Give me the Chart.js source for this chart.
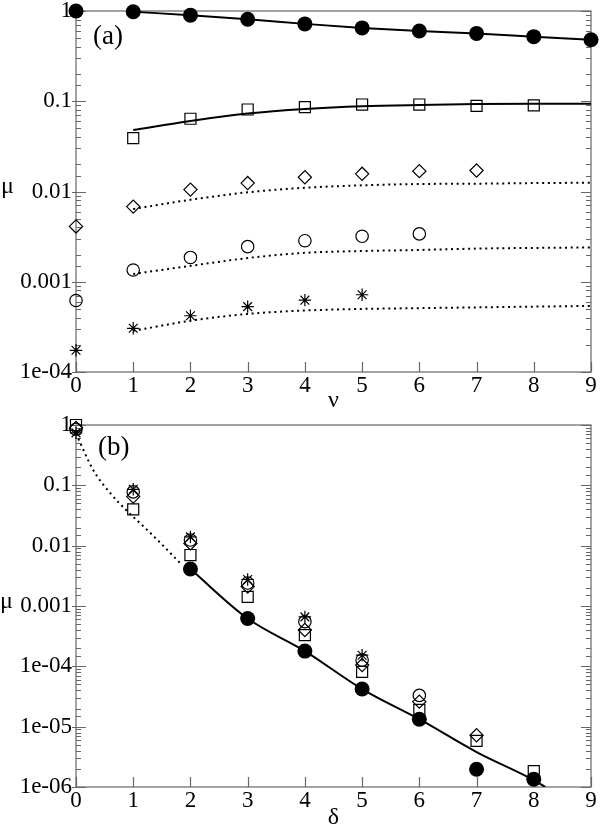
<!DOCTYPE html>
<html>
<head>
<meta charset="utf-8">
<script src="https://cdn.jsdelivr.net/npm/chart.js@4.4.1/dist/chart.umd.min.js"></script>
<style>
    body { margin: 0; background: #fff; }
    #wrap { position: relative; width: 600px; height: 833px; }
    canvas { position: absolute; left: 0; }
    #chartA { top: 0; }
    #chartB { top: 416px; }
</style>
</head>
<body>
<div id="wrap">
    <canvas id="chartA" width="600" height="416"></canvas>
    <canvas id="chartB" width="600" height="417"></canvas>
</div>
<script>
// ---- panel (a): mu against nu ----
let nuValues = [0, 1, 2, 3, 4, 5, 6, 7, 8, 9];
let aFilled = [1.0, 0.98, 0.90, 0.81, 0.72, 0.65, 0.60, 0.565, 0.52, 0.48];
let aSquares = [null, 0.039, 0.064, 0.081, 0.086, 0.092, 0.092, 0.089, 0.090];
let aDiamonds = [0.0041, 0.0068, 0.0105, 0.0124, 0.0144, 0.0157, 0.0168, 0.0171];
let aCircles = [0.00062, 0.00135, 0.00186, 0.00245, 0.00285, 0.00319, 0.00339];
let aStars = [0.000174, 0.000305, 0.00042, 0.00053, 0.000625, 0.000718];

// fitted curves, nu = 1..9
let fitNu = [1, 2, 3, 4, 5, 6, 7, 8, 9];
let aFitFilled = [0.98, 0.90, 0.81, 0.72, 0.65, 0.60, 0.565, 0.52, 0.48];
let aFitSquares = [0.048, 0.0605, 0.073, 0.082, 0.088, 0.091, 0.093, 0.094, 0.094];
let aFitDiamonds = [0.0064, 0.0081, 0.0098, 0.0110, 0.0117, 0.0121, 0.0122, 0.0124, 0.0125];
let aFitCircles = [0.00122, 0.0015, 0.00183, 0.00209, 0.00219, 0.00225, 0.00233, 0.00237, 0.0024];
let aFitStars = [0.000286, 0.00037, 0.00044, 0.00048, 0.0005, 0.00051, 0.00052, 0.00053, 0.00054];

let aTickLabels = ['1', '0.1', '0.01', '0.001', '1e-04'];

// ---- panel (b): mu against delta ----
let deltaValues = [0, 1, 2, 3, 4, 5, 6, 7, 8];
let bFilled = [null, null, 0.0041, 0.00062, 0.000179, 0.000042, 0.0000133, 0.00000197, 0.00000135];
let bSquares = [1.0, 0.040, 0.0070, 0.00142, 0.00033, 0.000081, 0.000019, 0.0000058, 0.00000183];
let bDiamonds = [0.89, 0.065, 0.0109, 0.0021, 0.0004, 0.000105, 0.000026, 0.0000072];
let bCircles = [0.85, 0.078, 0.0124, 0.0024, 0.00055, 0.000127, 0.000033];
let bStars = [0.74, 0.086, 0.014, 0.00275, 0.00066, 0.000153];

let bSolidX = [2, 3, 4, 5, 6, 7, 8, 8.2];
let bSolid = [0.0041, 0.00062, 0.000179, 0.000042, 0.0000133, 0.0000038, 0.0000013, 0.000001];
let bDotX = [0, 0.3, 0.6, 0.9, 1.2, 1.5, 1.85];
let bDot = [0.72, 0.18, 0.074, 0.037, 0.020, 0.0105, 0.0048];

let bTickLabels = ['1', '0.1', '0.01', '0.001', '1e-04', '1e-05', '1e-06'];

let serif = "'Liberation Serif', 'Times New Roman', serif";
let frameColor = '#666';

let isDecade = function (v) {
    let e = Math.log10(v);
    return Math.abs(e - Math.round(e)) < 1e-6;
};

let points = function (xs, ys) {
    let out = [];
    for (let i = 0; i < ys.length; i++) {
        if (ys[i] != null) out.push({ x: xs[i], y: ys[i] });
    }
    return out;
};

let markerSet = function (data, style, radius, filled) {
    return {
        data: data,
        showLine: false,
        pointStyle: style,
        pointRadius: radius,
        pointHoverRadius: radius,
        pointBorderWidth: filled ? 0 : 1.2,
        pointBorderColor: '#000',
        pointBackgroundColor: filled ? '#000' : 'rgba(0,0,0,0)',
        clip: false
    };
};

let fitSet = function (data, dotted) {
    return {
        data: data,
        showLine: true,
        pointRadius: 0,
        borderColor: '#000',
        borderWidth: 2,
        borderDash: dotted ? [2, 3.7] : [],
        cubicInterpolationMode: 'monotone',
        fill: false
    };
};

// frame, inward ticks, panel tag and the mu label
let decorPlugin = {
    id: 'decor',
    beforeDatasetsDraw: function (chart, args, opts) {
        let ctx = chart.ctx;
        let a = chart.chartArea;
        let xs = chart.scales.x;
        let ys = chart.scales.y;
        ctx.save();
        ctx.strokeStyle = frameColor;
        ctx.lineWidth = 1.2;
        ctx.strokeRect(a.left, a.top, a.right - a.left, a.bottom - a.top);
        ctx.beginPath();
        ys.ticks.forEach(function (t) {
            let y = Math.round(ys.getPixelForValue(t.value)) + 0.5;
            let major = isDecade(t.value);
            let len = major ? 10 : 5;
            ctx.moveTo(a.left - (major ? 4 : 0), y);
            ctx.lineTo(a.left + len, y);
            ctx.moveTo(a.right - len, y);
            ctx.lineTo(a.right, y);
        });
        xs.ticks.forEach(function (t) {
            let x = Math.round(xs.getPixelForValue(t.value)) + 0.5;
            ctx.moveTo(x, a.bottom);
            ctx.lineTo(x, a.bottom - 10);
        });
        ctx.stroke();
        ctx.restore();
    },
    afterDraw: function (chart, args, opts) {
        let ctx = chart.ctx;
        let a = chart.chartArea;
        ctx.save();
        ctx.fillStyle = '#000';
        ctx.textAlign = 'left';
        ctx.textBaseline = 'middle';
        ctx.font = '27px ' + serif;
        ctx.fillText(opts.tag, a.left + opts.tagDx, a.top + opts.tagDy);
        ctx.textBaseline = 'alphabetic';
        ctx.font = '24px ' + serif;
        ctx.fillText('\u03bc', opts.muX, (a.top + a.bottom) / 2 + 1.5);
        ctx.restore();
    }
};

let makeOptions = function (yMin, tickLabels, xTitle, pad, axisHeight, decor) {
    return {
        responsive: false,
        animation: false,
        events: [],
        layout: { padding: pad },
        plugins: {
            legend: { display: false },
            tooltip: { enabled: false },
            decor: decor
        },
        scales: {
            x: {
                type: 'linear',
                min: 0,
                max: 9,
                grid: { display: false, drawTicks: false },
                border: { display: false },
                ticks: {
                    stepSize: 1,
                    padding: 0,
                    maxRotation: 0,
                    color: '#000',
                    font: { family: serif, size: 23 }
                },
                title: {
                    display: true,
                    text: xTitle,
                    color: '#000',
                    font: { family: serif, size: 24 },
                    padding: { top: 0, bottom: 1 }
                },
                afterFit: function (scale) {
                    scale.height = axisHeight;
                    scale.paddingLeft = 0;
                    scale.paddingRight = 0;
                }
            },
            y: {
                type: 'logarithmic',
                min: yMin,
                max: 1,
                grid: { display: false, drawTicks: false },
                border: { display: false },
                ticks: {
                    autoSkip: false,
                    padding: 4,
                    color: '#000',
                    font: { family: serif, size: 23 },
                    callback: function (value) {
                        if (!isDecade(value)) return '';
                        return tickLabels[-Math.round(Math.log10(value))];
                    }
                },
                afterFit: function (scale) {
                    scale.width = 76;
                    scale.paddingTop = 0;
                    scale.paddingBottom = 0;
                }
            }
        }
    };
};

new Chart(document.getElementById('chartA').getContext('2d'), {
    type: 'scatter',
    data: {
        datasets: [
            markerSet(points(nuValues, aFilled), 'circle', 7.5, true),
            markerSet(points(nuValues, aSquares), 'rect', 7.8, false),
            markerSet(points(nuValues, aDiamonds), 'rectRot', 6.6, false),
            markerSet(points(nuValues, aCircles), 'circle', 6.2, false),
            markerSet(points(nuValues, aStars), 'star', 6.2, false),
            fitSet(points(fitNu, aFitFilled), false),
            fitSet(points(fitNu, aFitSquares), false),
            fitSet(points(fitNu, aFitDiamonds), true),
            fitSet(points(fitNu, aFitCircles), true),
            fitSet(points(fitNu, aFitStars), true)
        ]
    },
    options: makeOptions(0.0001, aTickLabels, '\u03bd', { top: 11, right: 9, left: 0, bottom: 0 }, 44,
        { tag: '(a)', tagDx: 17, tagDy: 25.5, muX: 1 }),
    plugins: [decorPlugin]
});

new Chart(document.getElementById('chartB').getContext('2d'), {
    type: 'scatter',
    data: {
        datasets: [
            markerSet(points(deltaValues, bFilled), 'circle', 7.5, true),
            markerSet(points(deltaValues, bSquares), 'rect', 7.8, false),
            markerSet(points(deltaValues, bDiamonds), 'rectRot', 6.6, false),
            markerSet(points(deltaValues, bCircles), 'circle', 6.2, false),
            markerSet(points(deltaValues, bStars), 'star', 6.2, false),
            fitSet(points(bSolidX, bSolid), false),
            fitSet(points(bDotX, bDot), true)
        ]
    },
    options: makeOptions(0.000001, bTickLabels, '\u03b4', { top: 9, right: 9, left: 0, bottom: 0 }, 46,
        { tag: '(b)', tagDx: 22, tagDy: 22.5, muX: 0 }),
    plugins: [decorPlugin]
});
</script>
</body>
</html>
